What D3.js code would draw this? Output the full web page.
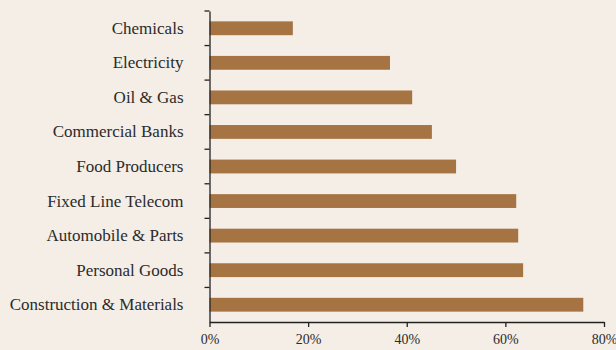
<!DOCTYPE html>
<html>
<head>
<meta charset="utf-8">
<script src="https://cdn.jsdelivr.net/npm/d3@7/dist/d3.min.js"></script>
<style>
  html, body { margin: 0; padding: 0; background: #f4eee7; }
  svg { display: block; }
  svg text { font-family: "Liberation Serif", "Times New Roman", serif; }
</style>
</head>
<body>
<svg id="chart" width="616" height="350"></svg>
<script>
const sectors = [
  'Chemicals', 'Electricity', 'Oil & Gas', 'Commercial Banks', 'Food Producers',
  'Fixed Line Telecom', 'Automobile & Parts', 'Personal Goods', 'Construction & Materials'
]
const shares = [16.9, 36.6, 41.1, 45.1, 50.0, 62.2, 62.6, 63.6, 75.8]
const xTicks = [0, 20, 40, 60, 80]

const svg = d3.select('#chart')
const width = 616
const height = 350
const margin = { top: 11, right: 12, bottom: 28, left: 209.5 }
const innerW = width - margin.left - margin.right
const innerH = height - margin.top - margin.bottom

svg.append('rect').attr('width', width).attr('height', height).attr('fill', '#f4eee7')

const g = svg.append('g').attr('transform', `translate(${margin.left},${margin.top})`)

const x = d3.scaleLinear().domain([0, 80]).range([0, 394.5])
const y = d3.scaleBand().domain(sectors).range([0, innerH]).paddingInner(0.6).paddingOuter(0.3)

// bars
g.selectAll('rect.bar')
  .data(sectors)
  .enter()
  .append('rect')
  .attr('class', 'bar')
  .attr('x', 0)
  .attr('y', d => y(d))
  .attr('height', y.bandwidth())
  .attr('width', (d, i) => x(shares[i]))
  .attr('fill', '#a57442')

// left axis: labels centred in bands, ticks at band edges
const yAxis = g.append('g')
  .call(d3.axisLeft(y).tickSize(0).tickPadding(26))
yAxis.attr('font-family', null)
yAxis.select('.domain').attr('stroke', '#222').attr('stroke-width', 1.3)
yAxis.selectAll('text')
  .attr('font-size', 17)
  .attr('fill', '#2b2b2b')

const step = innerH / sectors.length
g.append('g')
  .selectAll('line')
  .data(d3.range(sectors.length))
  .enter()
  .append('line')
  .attr('x1', -5).attr('x2', 0)
  .attr('y1', i => i * step).attr('y2', i => i * step)
  .attr('stroke', '#222')
  .attr('stroke-width', 1.3)

// bottom axis
const xAxis = g.append('g')
  .attr('transform', `translate(0,${innerH})`)
  .call(d3.axisBottom(x).tickValues(xTicks).tickSize(5).tickSizeOuter(0).tickPadding(7).tickFormat(d => d + '%'))
xAxis.attr('font-family', null)
xAxis.selectAll('path, line').attr('stroke', '#222').attr('stroke-width', 1.3)
xAxis.selectAll('text')
  .attr('font-size', 14)
  .attr('fill', '#2b2b2b')
</script>
</body>
</html>
